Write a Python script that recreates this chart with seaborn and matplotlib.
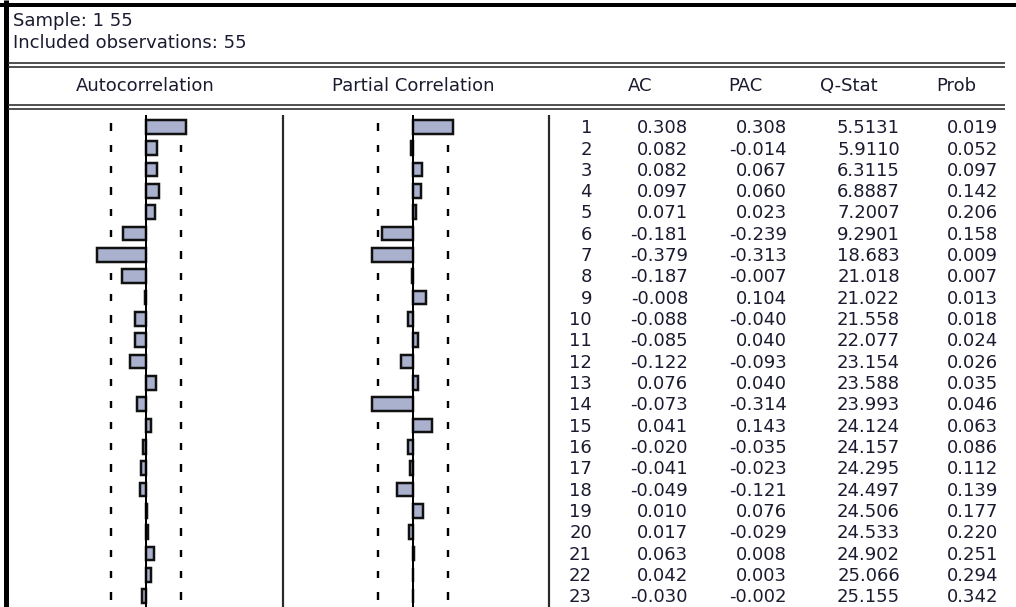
import numpy as np
import pandas as pd
import matplotlib
matplotlib.use("Agg")
import matplotlib.pyplot as plt
import seaborn as sns

# Correlogram of a series, 55 observations, 23 lags
n_obs = 55
lags = list(range(1, 24))
ac = [0.308, 0.082, 0.082, 0.097, 0.071, -0.181, -0.379, -0.187, -0.008, -0.088,
      -0.085, -0.122, 0.076, -0.073, 0.041, -0.020, -0.041, -0.049, 0.010, 0.017,
      0.063, 0.042, -0.030]
pac = [0.308, -0.014, 0.067, 0.060, 0.023, -0.239, -0.313, -0.007, 0.104, -0.040,
       0.040, -0.093, 0.040, -0.314, 0.143, -0.035, -0.023, -0.121, 0.076, -0.029,
       0.008, 0.003, -0.002]
q_stat = [5.5131, 5.9110, 6.3115, 6.8887, 7.2007, 9.2901, 18.683, 21.018, 21.022,
          21.558, 22.077, 23.154, 23.588, 23.993, 24.124, 24.157, 24.295, 24.497,
          24.506, 24.533, 24.902, 25.066, 25.155]
prob = [0.019, 0.052, 0.097, 0.142, 0.206, 0.158, 0.009, 0.007, 0.013, 0.018,
        0.024, 0.026, 0.035, 0.046, 0.063, 0.086, 0.112, 0.139, 0.177, 0.220,
        0.251, 0.294, 0.342]
header_cols = ["AC", "PAC", "Q-Stat", "Prob"]
sample_text = "Sample: 1 55"
obs_text = "Included observations: 55"

df = pd.DataFrame({"lag": [str(l) for l in lags], "ac": ac, "pac": pac})
order = df["lag"].tolist()
bound = 2 / np.sqrt(n_obs)

sns.set_theme(style="white")
plt.rcParams["font.family"] = ["DejaVu Sans"]

W, H = 1016, 607
fig = plt.figure(figsize=(W / 100, H / 100), dpi=100)
fig.patch.set_facecolor("white")

PX = 0.72            # points per pixel at 100 dpi
unit = 129.8         # pixels per unit of correlation
row_h = 21.32        # pixels per lag row
top_px, first_row_px = 115, 127
ylim = ((H - first_row_px) / row_h, (top_px - first_row_px) / row_h)

bar_fill = "#A9B1CE"
ink = "#1b1b30"


def panel(x0, x1, zero_px):
    ax = fig.add_axes([x0 / W, 0, (x1 - x0) / W, (H - top_px) / H])
    ax.set_xlim((x0 - zero_px) / unit, (x1 - zero_px) / unit)
    ax.set_ylim(*ylim)
    ax.set_axis_off()
    ax.patch.set_alpha(0)
    return ax


def draw_bars(ax, col):
    pos = np.arange(len(order))
    for side in (-bound, bound):
        ax.vlines(np.full(len(pos), side), pos - 0.17, pos + 0.17,
                  color="black", lw=2.4 * PX, zorder=1)
    sns.barplot(data=df, x=col, y="lag", order=order, orient="h", ax=ax,
                color=bar_fill, saturation=1, width=0.64, edgecolor="#111111",
                linewidth=2.5 * PX, zorder=3)
    ax.axvline(0, color="black", lw=2 * PX, zorder=4)
    ax.set_ylim(*ylim)
    ax.set_axis_off()


ax_ac = panel(8, 283, 146)
draw_bars(ax_ac, "ac")
ax_pac = panel(283, 549, 413)
draw_bars(ax_pac, "pac")

# Numeric table on the right, sharing the row scale of the bar panels
ax_tab = fig.add_axes([549 / W, 0, (W - 549) / W, (H - top_px) / H])
ax_tab.set_xlim(549, W)
ax_tab.set_ylim(*ylim)
ax_tab.set_axis_off()
ax_tab.patch.set_alpha(0)

fs = 13
col_right = [592, 688, 787, 900, 998]
for i, lag in enumerate(lags):
    q = q_stat[i]
    q_txt = f"{q:.4f}" if q < 10 else f"{q:.3f}"
    cells = [str(lag), f"{ac[i]:.3f}", f"{pac[i]:.3f}", q_txt, f"{prob[i]:.3f}"]
    for xr, txt in zip(col_right, cells):
        ax_tab.text(xr, i + 0.29, txt, ha="right", va="baseline",
                    fontsize=fs, color=ink)

# Frame, rules and headings
ov = fig.add_axes([0, 0, 1, 1])
ov.set_xlim(0, W)
ov.set_ylim(H, 0)
ov.set_axis_off()
ov.patch.set_alpha(0)

ov.hlines(4.5, 0, W, color="black", lw=4 * PX)
ov.vlines(5.5, 0, H, color="black", lw=5 * PX)
for y in (62.5, 66.5, 104.5, 108.5):
    ov.hlines(y, 8, 1005, color="#2a2a2a", lw=1.6 * PX)
for x in (283, 549):
    ov.vlines(x, top_px, H, color="#2a2a2a", lw=2.2 * PX)

ov.text(13, 26.5, sample_text, ha="left", va="baseline", fontsize=fs, color=ink)
ov.text(13, 47.5, obs_text, ha="left", va="baseline", fontsize=fs, color=ink)
ov.text(145, 91, "Autocorrelation", ha="center", va="baseline", fontsize=fs, color=ink)
ov.text(413, 91, "Partial Correlation", ha="center", va="baseline", fontsize=fs, color=ink)
for xc, lab in zip([640, 745, 849, 956], header_cols):
    ov.text(xc, 91, lab, ha="center", va="baseline", fontsize=fs, color=ink)

fig.savefig("out.png", dpi=100, facecolor="white")
